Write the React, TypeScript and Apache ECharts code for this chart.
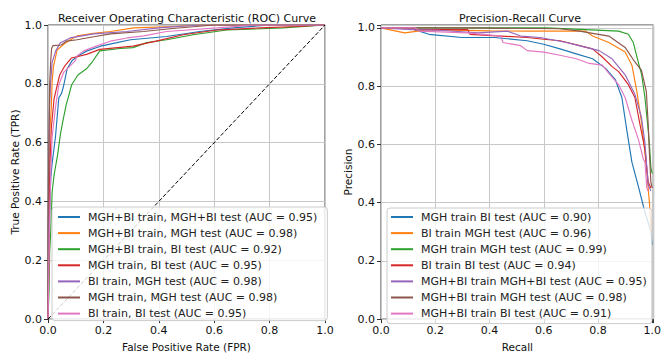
import React, { useEffect, useRef } from 'react';
import * as echarts from 'echarts';

const FONT = "'DejaVu Sans', 'Liberation Sans', sans-serif";
const COLORS = ['#1f77b4', '#ff7f0e', '#2ca02c', '#d62728', '#9467bd', '#8c564b', '#e377c2'];

const tickValues = [0, 0.2, 0.4, 0.6, 0.8, 1.0];

// ---------- ROC curves (FPR, TPR) ----------
const rocNames = [
  'MGH+BI train, MGH+BI test (AUC = 0.95)',
  'MGH+BI train, MGH test (AUC = 0.98)',
  'MGH+BI train, BI test (AUC = 0.92)',
  'MGH train, BI test (AUC = 0.95)',
  'BI train, MGH test (AUC = 0.98)',
  'MGH train, MGH test (AUC = 0.98)',
  'BI train, BI test (AUC = 0.95)',
];

const rocMghBiMghBi = [[0, 0], [0.003, 0.2], [0.007, 0.4], [0.01, 0.48], [0.015, 0.53], [0.027, 0.62], [0.039, 0.752], [0.05, 0.77], [0.057, 0.796], [0.069, 0.851], [0.087, 0.879], [0.117, 0.9], [0.141, 0.912], [0.19, 0.928], [0.249, 0.94], [0.298, 0.95], [0.428, 0.961], [0.548, 0.978], [0.668, 0.99], [0.8, 1], [1, 1]];
const rocMghBiMgh = [[0, 0], [0.004, 0.3], [0.006, 0.63], [0.012, 0.72], [0.015, 0.81], [0.02, 0.86], [0.033, 0.915], [0.057, 0.934], [0.08, 0.95], [0.105, 0.963], [0.165, 0.972], [0.225, 0.978], [0.31, 0.99], [0.45, 0.995], [0.55, 1], [1, 1]];
const rocMghBiBi = [[0, 0], [0.004, 0.1], [0.006, 0.23], [0.01, 0.3], [0.015, 0.433], [0.022, 0.49], [0.035, 0.56], [0.045, 0.63], [0.055, 0.68], [0.066, 0.73], [0.075, 0.76], [0.085, 0.796], [0.108, 0.83], [0.139, 0.851], [0.16, 0.875], [0.187, 0.912], [0.259, 0.92], [0.307, 0.923], [0.356, 0.94], [0.428, 0.95], [0.524, 0.967], [0.645, 0.983], [0.85, 0.99], [1, 1]];
const rocMghBi = [[0, 0], [0.003, 0.2], [0.006, 0.5], [0.012, 0.65], [0.022, 0.75], [0.042, 0.83], [0.06, 0.86], [0.085, 0.888], [0.139, 0.9], [0.187, 0.917], [0.307, 0.928], [0.39, 0.945], [0.488, 0.967], [0.61, 0.983], [0.765, 0.99], [0.9, 0.995], [1, 1]];
const rocBiMgh = [[0, 0], [0.002, 0.4], [0.005, 0.7], [0.009, 0.8], [0.015, 0.874], [0.028, 0.912], [0.045, 0.94], [0.08, 0.956], [0.165, 0.97], [0.285, 0.978], [0.4, 0.99], [0.55, 1], [1, 1]];
const rocMghMgh = [[0, 0], [0, 0.3], [0.003, 0.6], [0.006, 0.8], [0.01, 0.88], [0.013, 0.92], [0.018, 0.93], [0.048, 0.932], [0.066, 0.945], [0.105, 0.95], [0.165, 0.96], [0.225, 0.97], [0.345, 0.978], [0.45, 0.988], [0.6, 1], [1, 1]];
const rocBiBi = [[0, 0], [0.002, 0.1], [0.005, 0.3], [0.01, 0.5], [0.015, 0.62], [0.027, 0.72], [0.039, 0.796], [0.057, 0.84], [0.081, 0.862], [0.099, 0.879], [0.105, 0.895], [0.129, 0.912], [0.177, 0.929], [0.225, 0.945], [0.286, 0.956], [0.346, 0.963], [0.428, 0.978], [0.61, 0.99], [0.75, 1], [1, 1]];
const rocChance = [[0, 0], [1, 1]];

const rocData = [rocMghBiMghBi, rocMghBiMgh, rocMghBiBi, rocMghBi, rocBiMgh, rocMghMgh, rocBiBi];

// ---------- Precision-Recall curves (Recall, Precision) ----------
const prNames = [
  'MGH train BI test (AUC = 0.90)',
  'BI train MGH test (AUC = 0.96)',
  'MGH train MGH test (AUC = 0.99)',
  'BI train BI test (AUC = 0.94)',
  'MGH+BI train MGH+BI test (AUC = 0.95)',
  'MGH+BI train MGH test (AUC = 0.98)',
  'MGH+BI train BI test (AUC = 0.91)',
];

const prMghBi = [[0, 1], [0.12, 1], [0.123, 0.994], [0.177, 0.978], [0.298, 0.967], [0.418, 0.967], [0.539, 0.956], [0.6, 0.944], [0.66, 0.928], [0.72, 0.911], [0.78, 0.894], [0.828, 0.861], [0.864, 0.822], [0.888, 0.761], [0.906, 0.65], [0.925, 0.539], [0.949, 0.455], [0.973, 0.367], [0.99, 0.317], [0.995, 0.3], [1, 0.255]];
const prBiMgh = [[0, 1], [0.087, 0.983], [0.177, 0.994], [0.4, 0.99], [0.539, 0.989], [0.755, 0.989], [0.78, 0.972], [0.84, 0.95], [0.9, 0.917], [0.925, 0.872], [0.943, 0.783], [0.961, 0.672], [0.973, 0.572], [0.985, 0.45], [0.99, 0.394], [0.995, 0.3]];
const prMghMgh = [[0, 1], [0.61, 1], [0.876, 0.989], [0.912, 0.978], [0.93, 0.95], [0.942, 0.906], [0.961, 0.839], [0.973, 0.761], [0.985, 0.65], [0.99, 0.594], [0.995, 0.52], [1, 0.5]];
const prBiBi = [[0, 1], [0.12, 1], [0.123, 0.994], [0.32, 0.994], [0.328, 0.978], [0.443, 0.972], [0.539, 0.967], [0.6, 0.961], [0.66, 0.956], [0.732, 0.939], [0.78, 0.928], [0.816, 0.9], [0.852, 0.867], [0.876, 0.85], [0.912, 0.805], [0.936, 0.761], [0.954, 0.672], [0.973, 0.583], [0.985, 0.472], [0.995, 0.45]];
const prMghBiMghBi = [[0, 1], [0.117, 0.994], [0.213, 0.992], [0.358, 0.983], [0.466, 0.989], [0.515, 0.972], [0.587, 0.967], [0.684, 0.95], [0.756, 0.933], [0.804, 0.922], [0.852, 0.894], [0.9, 0.839], [0.936, 0.772], [0.96, 0.694], [0.973, 0.605], [0.985, 0.461], [0.995, 0.44]];
const prMghBiMgh = [[0, 1], [0.32, 1], [0.66, 0.997], [0.732, 0.989], [0.84, 0.972], [0.9, 0.933], [0.936, 0.883], [0.96, 0.855], [0.978, 0.783], [0.985, 0.672], [0.99, 0.561], [0.995, 0.47], [1, 0.45]];
const prMghBiBi = [[0, 1], [0.127, 1], [0.14, 0.989], [0.32, 0.983], [0.443, 0.972], [0.449, 0.95], [0.515, 0.939], [0.539, 0.922], [0.6, 0.917], [0.66, 0.906], [0.72, 0.894], [0.768, 0.878], [0.816, 0.872], [0.84, 0.844], [0.876, 0.805], [0.9, 0.761], [0.925, 0.683], [0.949, 0.617], [0.967, 0.55], [0.973, 0.539], [0.98, 0.45], [0.985, 0.439]];

const prData = [prMghBi, prBiMgh, prMghMgh, prBiBi, prMghBiMghBi, prMghBiMgh, prMghBiBi];

const fmtTick = (v: number) => {
  const ok = tickValues.some((t) => Math.abs(t - v) < 1e-6);
  return ok ? v.toFixed(1) : '';
};

const axisCommon = (name: string, nameGap: number, max: number) => ({
  type: 'value' as const,
  min: 0,
  max,
  interval: 0.2,
  name,
  nameLocation: 'middle' as const,
  nameGap,
  nameTextStyle: { fontFamily: FONT, fontSize: 10.5, color: '#111' },
  axisLine: { show: false },
  axisTick: { show: true, length: 4, lineStyle: { color: '#333', width: 1 } },
  axisLabel: { fontFamily: FONT, fontSize: 11, color: '#111', margin: 6, formatter: fmtTick },
  splitLine: { show: true, lineStyle: { color: '#c8c8c8', width: 1 } },
});

export default function App() {
  const ref = useRef<HTMLDivElement>(null);
  useEffect(() => {
    if (!ref.current) return;
    const chart = echarts.init(ref.current, undefined, { renderer: 'svg' });
    const series: any[] = [];
    rocData.forEach((d, i) => {
      series.push({
        type: 'line', name: rocNames[i], data: d, xAxisIndex: 0, yAxisIndex: 0,
        showSymbol: false, symbol: 'none', color: COLORS[i],
        lineStyle: { width: 1.15, color: COLORS[i] }, z: 2 + i * 0.01,
      });
    });
    series.push({
      type: 'line', name: 'chance', data: rocChance, xAxisIndex: 0, yAxisIndex: 0,
      showSymbol: false, symbol: 'none', color: '#000',
      lineStyle: { width: 1, color: '#000', type: [4, 2] }, z: 3,
    });
    prData.forEach((d, i) => {
      series.push({
        type: 'line', name: prNames[i], data: d, xAxisIndex: 1, yAxisIndex: 1,
        showSymbol: false, symbol: 'none', color: COLORS[i],
        lineStyle: { width: 1.15, color: COLORS[i] }, z: 2 + i * 0.01,
      });
    });
    const legendCommon = {
      orient: 'vertical' as const,
      icon: 'rect',
      itemWidth: 22,
      itemHeight: 2,
      itemGap: 4.1,
      selectedMode: false,
      backgroundColor: 'rgba(255,255,255,0.8)',
      borderColor: '#cccccc',
      borderWidth: 1,
      borderRadius: 3,
      textStyle: { fontFamily: FONT, fontSize: 11, color: '#222', lineHeight: 12, padding: [0, 0, 0, 3] },
    };
    chart.setOption({
      animation: false,
      backgroundColor: '#ffffff',
      grid: [
        { left: 48, top: 25, width: 277, height: 303, show: true, borderColor: '#444', borderWidth: 1, backgroundColor: 'transparent' },
        { left: 381, top: 25, width: 277, height: 303, show: true, borderColor: '#444', borderWidth: 1, backgroundColor: 'transparent' },
      ],
      xAxis: [
        { ...axisCommon('False Positive Rate (FPR)', 21, 1.0), gridIndex: 0 },
        { ...axisCommon('Recall', 21, 1.005), gridIndex: 1 },
      ],
      yAxis: [
        { ...axisCommon('True Positive Rate (TPR)', 22, 1.0), gridIndex: 0 },
        { ...axisCommon('Precision', 23, 1.01), gridIndex: 1 },
      ],
      legend: [
        { ...legendCommon, data: rocNames, left: 52, top: 207, padding: [4, 10, 1, 6] },
        { ...legendCommon, data: prNames, left: 387, top: 208, padding: [3, 5, 4, 4] },
      ],
      graphic: [
        { type: 'text', x: 187, y: 18, style: { text: 'Receiver Operating Characteristic (ROC) Curve', fontFamily: FONT, fontSize: 11, fill: '#111', textAlign: 'center', textVerticalAlign: 'middle' } },
        { type: 'text', x: 520, y: 18, style: { text: 'Precision-Recall Curve', fontFamily: FONT, fontSize: 11, fill: '#111', textAlign: 'center', textVerticalAlign: 'middle' } },
      ],
      series,
    });
    return () => chart.dispose();
  }, []);
  return <div ref={ref} style={{ position: 'fixed', left: 0, top: 0, width: 664, height: 357 }} />;
}
